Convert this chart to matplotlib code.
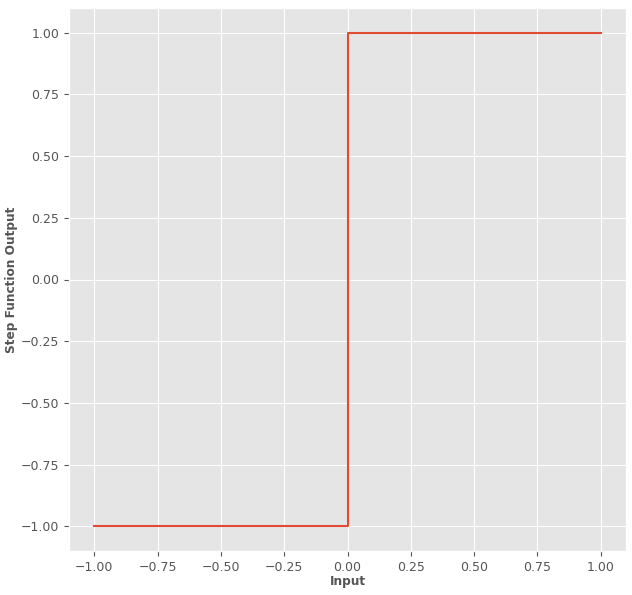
import matplotlib
matplotlib.use("Agg")
import matplotlib.pyplot as plt

plt.style.use("ggplot")

x_vals = [-1.0, 0.0, 0.0, 1.0]
y_vals = [-1.0, -1.0, 1.0, 1.0]
ticks = [-1.0, -0.75, -0.5, -0.25, 0.0, 0.25, 0.5, 0.75, 1.0]

W, H = 632, 595
L, B, R, T = 69, 44, 626, 8
fig = plt.figure(figsize=(W/100, H/100), dpi=100)
ax = fig.add_axes([L/W, B/H, (R-L)/W, (H-T-B)/H])
ax.plot(x_vals, y_vals, color="#E24A33", linewidth=1.5)
ax.set_xticks(ticks)
ax.set_yticks(ticks)
ax.set_xlabel("Input", fontweight="bold", fontsize=8.75)
ax.set_ylabel("Step Function Output", fontweight="bold", fontsize=8.75)
ax.tick_params(labelsize=9)
ax_h = H - T - B
ax_w = R - L
ax.xaxis.set_label_coords(0.5, -(575 - (H - B)) / ax_h)
ax.xaxis.label.set_verticalalignment("top")
ax.yaxis.set_label_coords(-(L - 18) / ax_w, 0.5)
fig.savefig("out.png", dpi=100)
